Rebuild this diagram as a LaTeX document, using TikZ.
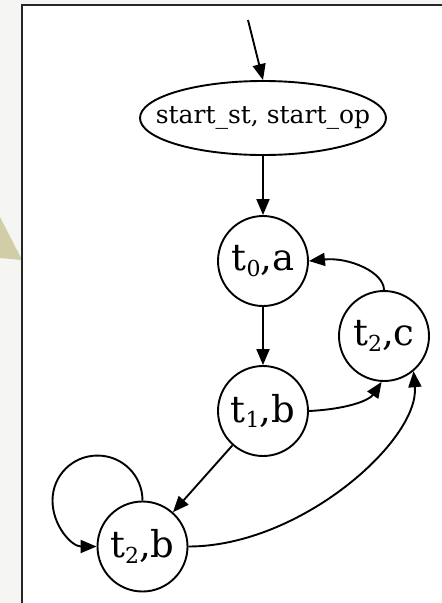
\documentclass[tikz,border=0pt]{standalone}
\usepackage{fontspec}
\setmainfont{DejaVu Serif}
\usetikzlibrary{shapes.geometric,arrows.meta}
\definecolor{pagebg}{RGB}{245,245,243}
\definecolor{khaki}{RGB}{209,205,167}
% small lowered index for the state labels
\newcommand\lowsub[1]{\raisebox{-0.3ex}{\fontsize{22}{22}\selectfont #1}}
\tikzset{
  state/.style={circle, draw, line width=1.9pt, minimum size=90pt, inner sep=0pt,
    font=\fontsize{37}{42}\selectfont},
  startstate/.style={ellipse, draw, line width=1.9pt, minimum width=246pt,
    minimum height=74pt, inner sep=0pt, font=\fontsize{25}{30}\selectfont},
  edge/.style={line width=1.9pt, -{Triangle[length=16pt,width=13pt]}},
}
\begin{document}
\begin{tikzpicture}[x=1pt,y=1pt]
\useasboundingbox (0,0) rectangle (442,-603);
% page background and framed drawing area
\fill[pagebg] (0,0) rectangle (442,-603);
\fill[khaki] (0,-217) -- (22,-260) -- (0,-258) -- cycle;
\fill[white] (22,-5) rectangle (442,-603);
\draw[line width=1.8pt, black!85] (22,-603) -- (22,-5) -- (442,-5);

% states (the start label is boxed at zero width so the ellipse keeps its size)
\node[startstate] (E) at (263,-118) {\makebox[0pt]{start\_st, start\_op}};
\node[state] (A) at (263,-261) {t\lowsub{0},a};
\node[state] (B) at (263,-411) {t\lowsub{1},b};
\node[state] (C) at (384,-336) {t\lowsub{2},c};
\node[state] (D) at (142.5,-546.5) {t\lowsub{2},b};
\coordinate (init) at (248,-20);

% transitions
\draw[edge] (init) -- (E.north);
\draw[edge] (E) -- (A);
\draw[edge] (A) -- (B);
\draw[edge] (B) -- (D);
\draw[edge] (B.east) .. controls +(40,2) and +(-12,-18) .. (C.-93);
\draw[edge] (C.north) .. controls +(0,18) and +(40,4) .. (A.east);
\draw[edge] (D.east) .. controls +(112,0) and +(6,-69) .. (C.-50);
\draw[edge] (D.north) .. controls +(0,25) and +(25,0) .. ++(-45,45)
  .. controls +(-25,0) and +(0,25) .. ++(-45,-45)
  .. controls +(0,-25) and +(-25,0) .. (D.west);
\end{tikzpicture}
\end{document}
